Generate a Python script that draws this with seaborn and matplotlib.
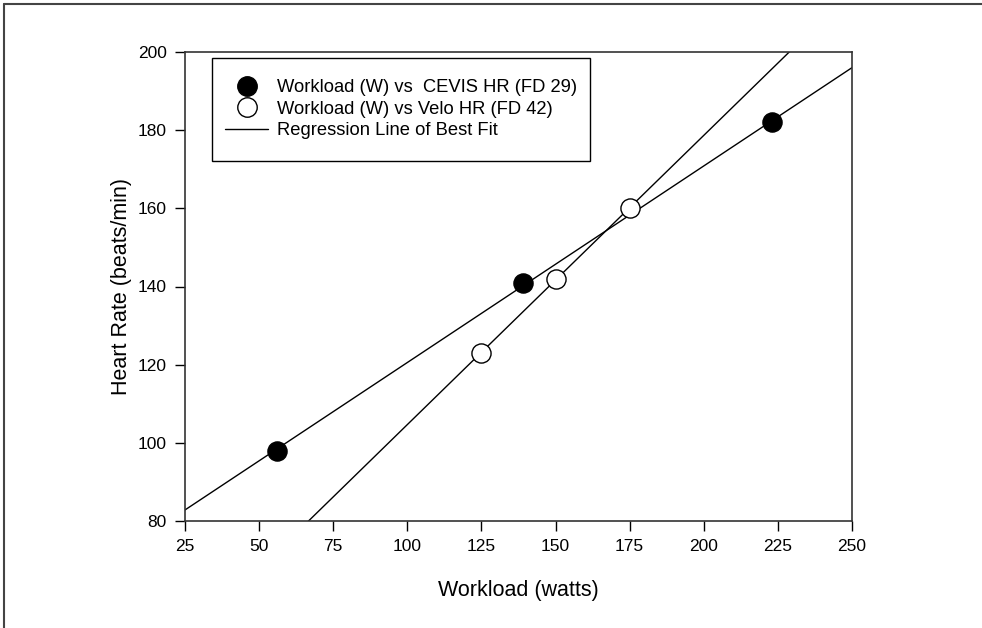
import matplotlib
matplotlib.use("Agg")
import matplotlib.pyplot as plt
import numpy as np
import pandas as pd
import seaborn as sns
from matplotlib.lines import Line2D
from matplotlib.path import Path

# Workload vs heart rate, two flight days
cevis_watts = [56, 139, 223]
cevis_hr = [98, 141, 182]
velo_watts = [125, 150, 175]
velo_hr = [123, 142, 160]

x_ticks = [25, 50, 75, 100, 125, 150, 175, 200, 225, 250]
y_ticks = [80, 100, 120, 140, 160, 180, 200]

sns.set_theme(style="ticks")
plt.rcParams["font.family"] = ["Liberation Sans", "DejaVu Sans"]
plt.rcParams["text.color"] = "black"
plt.rcParams["axes.labelcolor"] = "black"

cevis = pd.DataFrame({"watts": cevis_watts, "hr": cevis_hr})
velo = pd.DataFrame({"watts": velo_watts, "hr": velo_hr})

fig = plt.figure(figsize=(9.82, 6.28), dpi=100)
ax = fig.add_axes([185 / 982, 1 - 521 / 628, 667 / 982, 469 / 628])
ax.set_xlim(25, 250)
ax.set_ylim(80, 200)

# regression lines across the full axis range
line_kw = dict(color="black", linewidth=1.0)
sns.regplot(data=cevis, x="watts", y="hr", ax=ax, scatter=False, ci=None,
            truncate=False, line_kws=line_kw)
sns.regplot(data=velo, x="watts", y="hr", ax=ax, scatter=False, ci=None,
            truncate=False, line_kws=line_kw)

sns.scatterplot(data=cevis, x="watts", y="hr", ax=ax, s=190, color="black",
                edgecolor="black", linewidth=1.0, zorder=5)
sns.scatterplot(data=velo, x="watts", y="hr", ax=ax, s=190, color="white",
                edgecolor="black", linewidth=1.0, zorder=5)

ax.set_xlim(25, 250)
ax.set_ylim(80, 200)
ax.set_xticks(x_ticks)
ax.set_yticks(y_ticks)
ax.tick_params(direction="out", length=7, width=1, labelsize=12.5,
               colors="black", pad=6)
for sp in ax.spines.values():
    sp.set_visible(True)
    sp.set_color("#333333")
    sp.set_linewidth(1.2)

ax.set_xlabel("Workload (watts)", fontsize=15.5, labelpad=19)
ax.set_ylabel("Heart Rate (beats/min)", fontsize=15.5, labelpad=4)

handles = [
    Line2D([], [], marker="o", linestyle="none", markersize=14,
           markerfacecolor="black", markeredgecolor="black"),
    Line2D([], [], marker="o", linestyle="none", markersize=14,
           markerfacecolor="white", markeredgecolor="black"),
    Line2D([], [], color="black", linewidth=1.0),
]
labels = ["Workload (W) vs  CEVIS HR (FD 29)",
          "Workload (W) vs Velo HR (FD 42)",
          "Regression Line of Best Fit"]
leg = ax.legend(handles, labels, loc="upper left",
                bbox_to_anchor=(0.0405, 0.9696), fontsize=13.25,
                frameon=True, fancybox=False, edgecolor="black",
                framealpha=1, borderpad=0.7, labelspacing=0.25,
                handlelength=2.35, handletextpad=0.5, borderaxespad=0)


def tall_box(x0, y0, width, height, mutation_size):
    # legend frame with extra room above and below only
    pad = 0.45 * mutation_size
    return Path([(x0, y0 - pad), (x0 + width, y0 - pad),
                 (x0 + width, y0 + height + pad), (x0, y0 + height + pad),
                 (x0, y0 - pad)], closed=True)


leg.get_frame().set_boxstyle(tall_box)
leg.get_frame().set_linewidth(1.0)

# outer frame, only top and left edges visible in the original
fig.add_artist(Line2D([4 / 982, 1.0], [1 - 4 / 628, 1 - 4 / 628],
                      transform=fig.transFigure, color="#444444", lw=1.5))
fig.add_artist(Line2D([4 / 982, 4 / 982], [0.0, 1 - 4 / 628],
                      transform=fig.transFigure, color="#444444", lw=1.5))

fig.savefig("out.png", dpi=100)
